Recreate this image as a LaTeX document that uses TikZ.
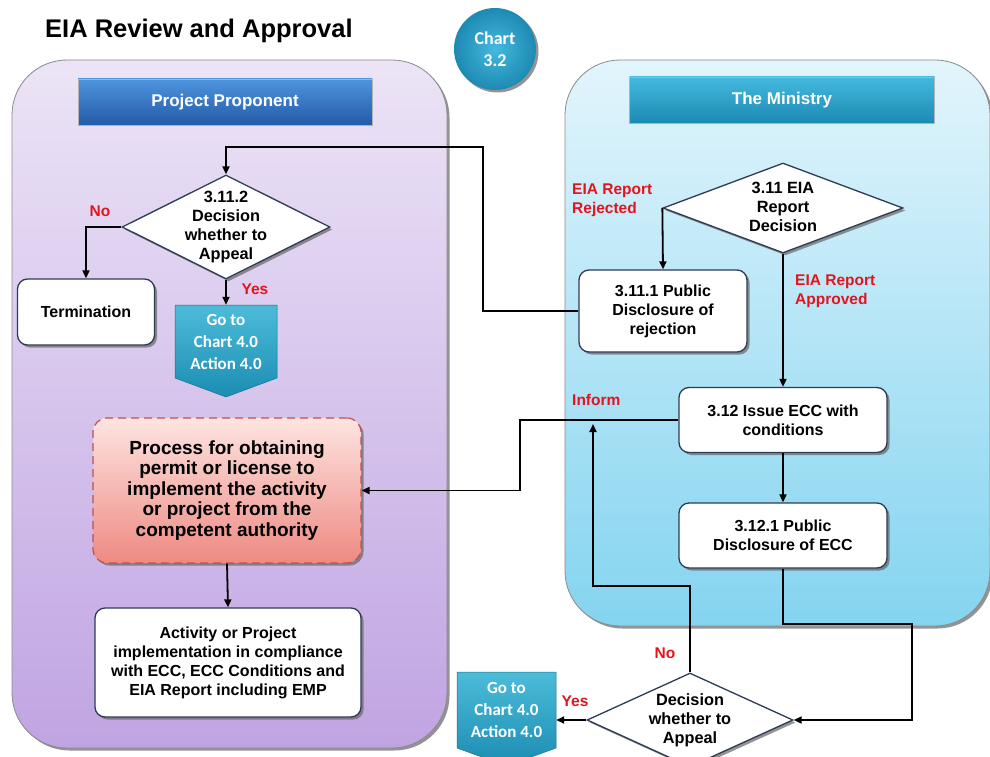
\documentclass[tikz,border=0pt]{standalone}
\usepackage{fontspec}
\setmainfont{Liberation Sans}
\newfontfamily\calib{Carlito}
\usetikzlibrary{arrows.meta,shapes.geometric,shadows}
\definecolor{labred}{HTML}{E3141E}
\definecolor{boxline}{HTML}{2E3B55}
\definecolor{panelline}{HTML}{8A8A8A}
\definecolor{lavtop}{HTML}{ECE4F6}
\definecolor{lavbot}{HTML}{C0A4E2}
\definecolor{cyantop}{HTML}{E2F5FC}
\definecolor{cyanbot}{HTML}{84D4F0}
\definecolor{bluetop}{HTML}{4F94DE}
\definecolor{bluebot}{HTML}{225BA8}
\definecolor{tealtop}{HTML}{45B9DD}
\definecolor{tealbot}{HTML}{1D8AB4}
\definecolor{gotop}{HTML}{4DBCD9}
\definecolor{gobot}{HTML}{1B8DB3}
\definecolor{pinktop}{HTML}{FDE4E1}
\definecolor{pinkbot}{HTML}{EE8A82}
\definecolor{pinkline}{HTML}{C0504D}
\newcommand\dtxt[1]{\smash{\makebox[0pt]{\raisebox{-0.3em}{\begin{tabular}{@{}c@{}}#1\end{tabular}}}}}
\begin{document}
\begin{tikzpicture}[x=1pt,y=-1pt,
  every node/.style={font=\bfseries},
  shadowed/.style={drop shadow={shadow xshift=2.5pt,shadow yshift=-2.5pt,fill=black!60,opacity=.7}},
  box/.style={draw=boxline,line width=1.3pt,fill=white,rounded corners=10pt,align=center,
    inner sep=2pt,shadowed,font=\bfseries\fontsize{16}{19}\selectfont},
  dia/.style={diamond,draw=boxline,line width=1.3pt,fill=white,inner sep=0pt,shadowed,
    font=\bfseries\fontsize{16.3}{19}\selectfont},
  header/.style={minimum height=46pt,text=white,font=\bfseries\fontsize{17}{20}\selectfont,
    draw=white!70!black,line width=0.6pt},
  gotoshape/.style={top color=gotop,bottom color=gobot,draw=gobot!80!black,line width=0.5pt},
  gototext/.style={text=white,align=center,font=\calib\bfseries\fontsize{17}{22}\selectfont,
    minimum width=100pt,minimum height=74pt,inner sep=0pt},
  lab/.style={text=labred,font=\bfseries\fontsize{15.5}{19}\selectfont,align=left,inner sep=0pt},
  conn/.style={line width=1.8pt,draw=black},
  arr/.style={conn,-{Triangle[length=8pt,width=7pt]}}
]
\useasboundingbox (0,0) rectangle (990,757);
\clip (0,0) rectangle (990,757);
\fill[white] (0,0) rectangle (990,757);

% panels
\path[draw=panelline,line width=0.8pt,rounded corners=55pt,top color=lavtop,bottom color=lavbot,shadowed]
  (12,60) rectangle (447,748);
\path[draw=panelline,line width=0.8pt,rounded corners=55pt,top color=cyantop,bottom color=cyanbot,shadowed]
  (565,60) rectangle (990,626);

% title and chart badge
\node[anchor=base west,inner sep=0pt,font=\bfseries\fontsize{25.5}{28}\selectfont] (title) at (45,38) {EIA Review and Approval};
\node[circle,minimum size=82pt,inner color=tealtop,outer color=tealbot,text=white,align=center,
  font=\calib\bfseries\fontsize{18}{22}\selectfont,shadowed] (chart) at (495,49) {Chart\\3.2};

% headers
\node[header,minimum width=294pt,top color=bluetop,bottom color=bluebot] (pp) at (225,102) {Project Proponent};
\node[header,minimum width=305pt,top color=tealtop,bottom color=tealbot] (min) at (782,100) {The Ministry};

% left column
\node[dia,minimum width=208pt,minimum height=104pt] (d3112) at (226,227)
  {\dtxt{3.11.2\\Decision\\whether to\\Appeal}};
\node[box,minimum width=137pt,minimum height=66pt] (term) at (86,312) {Termination};
\path[gotoshape] (175,305) -- (277,305) -- (277,378) -- (226,397) -- (175,378) -- cycle;
\node[gototext,minimum height=73pt] (goto1) at (226,341.5) {Go to\\Chart 4.0\\Action 4.0};
\node[draw=pinkline,dash pattern=on 8pt off 5pt,line width=1.2pt,rounded corners=14pt,top color=pinktop,bottom color=pinkbot,
  minimum width=268pt,minimum height=145pt,align=center,shadowed,
  font=\bfseries\fontsize{19}{20.5}\selectfont] (proc) at (227,490.5)
  {Process for obtaining\\permit or license to\\implement the activity\\or project from the\\competent authority};
\node[box,minimum width=266pt,minimum height=109pt,font=\bfseries\fontsize{16}{19}\selectfont] (act) at (228,662.5)
  {Activity or Project\\implementation in compliance\\with ECC, ECC Conditions and\\EIA Report including EMP};

% right column
\node[dia,minimum width=240pt,minimum height=90pt] (d311) at (783,208)
  {\dtxt{3.11 EIA\\Report\\Decision}};
\node[box,minimum width=168pt,minimum height=82pt] (b3111) at (663,311)
  {3.11.1 Public\\Disclosure of\\rejection};
\node[box,minimum width=208pt,minimum height=65pt] (b312) at (783,420)
  {3.12 Issue ECC with\\conditions};
\node[box,minimum width=208pt,minimum height=65pt] (b3121) at (783,535.5)
  {3.12.1 Public\\Disclosure of ECC};

% bottom
\node[dia,minimum width=206pt,minimum height=94pt] (dapp) at (690,720)
  {\dtxt{Decision\\whether to\\Appeal}};
\path[gotoshape] (457,672) -- (556,672) -- (556,748) -- (506.5,766) -- (457,748) -- cycle;
\node[gototext,minimum width=99pt,minimum height=76pt] (goto2) at (506.5,710) {Go to\\Chart 4.0\\Action 4.0};

% labels
\node[lab,anchor=center] (lno1) at (100,211) {No};
\node[lab,anchor=center] (lyes1) at (255,289) {Yes};
\node[lab,anchor=west] (lrej) at (572,200) {EIA Report\\Rejected};
\node[lab,anchor=west] (lapp) at (795,291) {EIA Report\\Approved};
\node[lab,anchor=west] (linf) at (572,400) {Inform};
\node[lab,anchor=center] (lno2) at (665,653) {No};
\node[lab,anchor=center] (lyes2) at (575,701) {Yes};

% coordinates for bends
\coordinate (c1) at (483,147);
\coordinate (c2) at (520,420);
\coordinate (c3) at (912,624);
\coordinate (c4) at (593,586);
\coordinate (c5) at (593,424);

% connectors
\draw[arr] (b3111.west) -| (c1) -| (d3112.north);
\draw[arr] (d3112.west) -| (term.north);
\draw[arr] (d3112.south) -- (goto1.north);
\draw[arr] (proc.south) -- (act.north);
\draw[arr] (d311.west) -- (b3111.north);
\draw[arr] (d311.south) -- (b312.north);
\draw[arr] (b312.south) -- (b3121.north);
\draw[arr] (b312.west) -- (c2) |- (proc.east);
\draw[arr] (b3121.south) |- (c3) |- (dapp.east);
\draw[arr] (dapp.north) |- (c4) -- (c5);
\draw[arr] (dapp.west) -- (dapp.west -| goto2.east);
\end{tikzpicture}
\end{document}
